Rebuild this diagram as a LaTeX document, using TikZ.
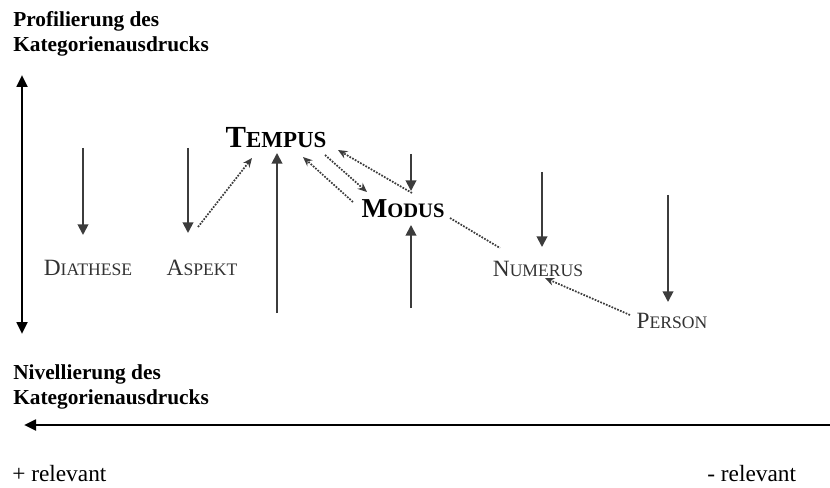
\documentclass[tikz,border=0pt]{standalone}
\usepackage{fontspec}
\setmainfont{Liberation Serif}
\usetikzlibrary{arrows.meta}
\definecolor{axisgray}{RGB}{60,60,60}
\definecolor{labelgray}{RGB}{50,50,50}
% fake small caps: first letter normal, rest at \kapsize
\newcommand\kapsize{13}
\newcommand\kap[2]{#1{\fontsize{\kapsize}{\kapsize}\selectfont #2}}

\begin{document}
\begin{tikzpicture}[x=0.75pt,y=-0.75pt,
  heading/.style={anchor=north west,inner sep=0pt,align=left,font=\fontsize{16}{18.5}\selectfont\bfseries},
  kat/.style={anchor=base,inner sep=2pt,text=labelgray,font=\fontsize{17.5}{20}\selectfont\renewcommand\kapsize{13.2}},
  big/.style={anchor=base,inner sep=2pt,font=\fontsize{23}{26}\selectfont\bfseries\renewcommand\kapsize{17.2}},
  mid/.style={anchor=base,inner sep=2pt,font=\fontsize{20.5}{24}\selectfont\bfseries\renewcommand\kapsize{15.4}},
  pole/.style={anchor=base west,inner sep=0pt,font=\fontsize{17.5}{20}\selectfont},
  axis/.style={line width=2pt,{Triangle[length=9pt,width=8pt]}-{Triangle[length=9pt,width=8pt]}},
  push/.style={-{Triangle[length=8pt,width=8pt]},line width=1.4pt,draw=axisgray},
  link/.style={-{Stealth[length=7pt,width=6pt]},densely dotted,line width=1.3pt,draw=axisgray}]
  \useasboundingbox (0,0) rectangle (830,488);
  % texts
  \node[heading] (profil) at (13,11.5) {Profilierung des\\Kategorienausdrucks};
  \node[heading] (nivel) at (13,364.5) {Nivellierung des\\Kategorienausdrucks};
  \node[big] (tempus) at (276,148) {\kap{T}{EMPUS}};
  \node[mid] (modus) at (403,217) {\kap{M}{ODUS}};
  \node[kat] (diathese) at (88,275) {\kap{D}{IATHESE}};
  \node[kat] (aspekt) at (202,275) {\kap{A}{SPEKT}};
  \node[kat] (numerus) at (538,276) {\kap{N}{UMERUS}};
  \node[kat] (person) at (672,328) {\kap{P}{ERSON}};
  \node[pole] (plus) at (12,481) {+ relevant};
  \node[pole] (minus) at (707,481) {- relevant};
  % axes
  \coordinate (vtop) at (22,75); \coordinate (vbot) at (22,334);
  \coordinate (hleft) at (24,425); \coordinate (hright) at (831,425);
  \draw[axis] (vtop)--(vbot);
  \draw[line width=2pt,{Triangle[length=9pt,width=8pt]}-] (hleft)--(hright);
  % pressure arrows
  \coordinate (dia-a) at (83,148); \coordinate (dia-b) at (83,235);
  \coordinate (asp-a) at (188,148); \coordinate (asp-b) at (188,233);
  \coordinate (num-a) at (542,172); \coordinate (num-b) at (542,247);
  \coordinate (per-a) at (668,195); \coordinate (per-b) at (668,302);
  \coordinate (mod-a) at (411,154); \coordinate (mod-b) at (411,191);
  \coordinate (tem-c) at (277,313); \coordinate (tem-d) at (277,153);
  \coordinate (mod-c) at (411,308); \coordinate (mod-d) at (411,225);
  \draw[push] (dia-a)--(dia-b); \draw[push] (asp-a)--(asp-b);
  \draw[push] (num-a)--(num-b); \draw[push] (per-a)--(per-b);
  \draw[push] (mod-a)--(mod-b);
  \draw[push] (tem-c)--(tem-d); \draw[push] (mod-c)--(mod-d);
  % dotted links
  \coordinate (l1a) at (198,227); \coordinate (l1b) at (252,158);
  \coordinate (l2a) at (325,155); \coordinate (l2b) at (367,192);
  \coordinate (l3a) at (353,202); \coordinate (l3b) at (303,157);
  \coordinate (l4a) at (412,193); \coordinate (l4b) at (338,150);
  \coordinate (l5a) at (450,218); \coordinate (l5b) at (500,248);
  \coordinate (l6a) at (630,315); \coordinate (l6b) at (545,278);
  \draw[link] (l1a)--(l1b); \draw[link] (l2a)--(l2b);
  \draw[link] (l3a)--(l3b); \draw[link] (l4a)--(l4b);
  \draw[link,-] (l5a)--(l5b); \draw[link] (l6a)--(l6b);
\end{tikzpicture}
\end{document}
